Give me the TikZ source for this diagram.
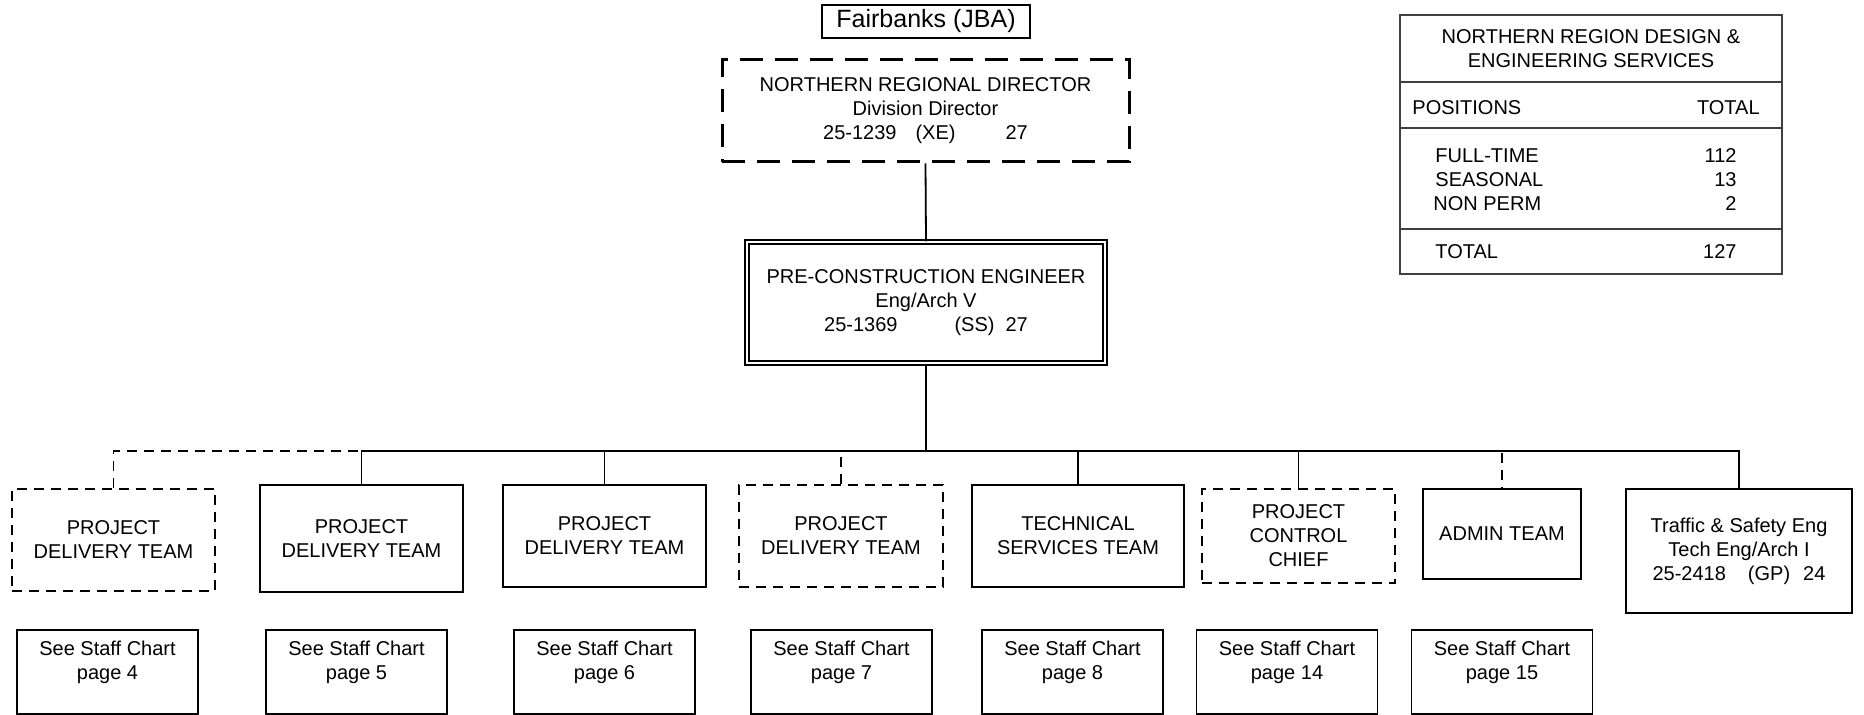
\documentclass[tikz,border=0pt]{standalone}
\usepackage{fontspec}
\setmainfont{Liberation Sans}
\definecolor{chartline}{HTML}{000000}
\definecolor{tableline}{HTML}{404040}

\begin{document}
\begin{tikzpicture}[x=0.5pt,y=-0.5pt,
        font=\fontsize{10}{12}\selectfont,
        box/.style={draw=chartline, line width=0.9pt, align=center, inner sep=0pt},
        dashbox/.style={box, dash pattern=on 5pt off 3.5pt},
        teambox/.style={box, minimum width=101.5pt, minimum height=51pt},
        staffbox/.style={box, minimum width=90.5pt, minimum height=42pt},
        link/.style={draw=chartline, line width=0.9pt},
        dashlink/.style={link, dash pattern=on 5pt off 3.5pt},
        cell/.style={inner sep=0pt}]
    \useasboundingbox (0,0) rectangle (1864,715);

    % Location
    \node[box, minimum width=104pt, minimum height=16.5pt,
          font=\fontsize{12.5}{14}\selectfont] (loc) at (926,21.5) {Fairbanks (JBA)};

    % Director and pre-construction engineer
    \node[box, line width=1.5pt, dash pattern=on 11.5pt off 6pt,
          minimum width=203.5pt, minimum height=51pt] (dir) at (925.5,111)
        {NORTHERN REGIONAL DIRECTOR\\Division Director\\25-1239\hspace{9.5pt}(XE)\hspace{25pt}27};
    \node[box, line width=0.6pt, double, double distance=1.4pt,
          minimum width=179pt, minimum height=60.5pt] (pce) at (926,302.5)
        {PRE-CONSTRUCTION ENGINEER\\Eng/Arch V\\25-1369\hspace{28.5pt}(SS)\hspace{5.5pt}27};

    % Teams
    \node[dashbox, minimum width=101.5pt, minimum height=51pt] (pdt1) at (113.5,540) {PROJECT\\DELIVERY TEAM};
    \node[teambox, minimum height=53.5pt] (pdt2) at (361.5,538.5) {PROJECT\\DELIVERY TEAM};
    \node[teambox] (pdt3) at (604.5,536) {PROJECT\\DELIVERY TEAM};
    \node[dashbox, minimum width=102pt, minimum height=51pt] (pdt4) at (841,536) {PROJECT\\DELIVERY TEAM};
    \node[teambox, minimum width=106pt] (tech) at (1078,536) {TECHNICAL\\SERVICES TEAM};
    \node[dashbox, minimum width=96.5pt, minimum height=47pt] (pcc) at (1298.5,536) {PROJECT\\CONTROL\\CHIEF};
    \node[box, minimum width=79pt, minimum height=45pt] (admin) at (1502,534) {ADMIN TEAM};
    \node[box, minimum width=113pt, minimum height=62pt] (tse) at (1739,551)
        {Traffic \& Safety Eng\\Tech Eng/Arch I\\25-2418\hspace{11pt}(GP)\hspace{6.5pt}24};

    % Staff chart references
    \foreach \i/\x/\p in {1/107.5/4, 2/356.5/5, 3/604.5/6, 4/841.5/7, 5/1072.5/8, 6/1287/14, 7/1502/15} {
        \node[staffbox] (staff\i) at (\x,672) {See Staff Chart\\page \p\\ \mbox{}};
    }

    % Connectors
    \coordinate (bus) at (926,451);
    \draw[link] (dir.south) -- (pce.north);
    \draw[link] (pce.south) -- (bus);
    \draw[dashlink] (pdt1.north) -- (pdt1.north |- bus) -- (admin.north |- bus) -- (admin.north);
    \draw[dashlink] (pdt4.north) -- (pdt4.north |- bus);
    \draw[link] (pdt2.north) -- (pdt2.north |- bus) -- (tse.north |- bus) -- (tse.north);
    \foreach \n in {pdt3,tech,pcc}
        \draw[link] (\n.north) -- (\n.north |- bus);

    % Position totals
    \node[draw=tableline, line width=0.6pt, minimum width=191pt, minimum height=129.5pt] (totals) at (1591,144.5) {};
    \draw[tableline, line width=0.6pt] (1400,82) -- (1782,82);
    \draw[tableline, line width=0.6pt] (1400,128) -- (1782,128);
    \draw[tableline, line width=0.6pt] (1400,229) -- (1782,229);
    \node[align=center] (ttl) at (1591,48.5) {NORTHERN REGION DESIGN \&\\ENGINEERING SERVICES};
    \node[cell, anchor=west] (poshead) at (1412,108) {POSITIONS};
    \node[cell, anchor=east] (tothead) at (1760,108) {TOTAL};
    \node[cell, anchor=west] (ft) at (1435,156) {FULL-TIME};
    \node[cell, anchor=west] (sea) at (1435,180) {SEASONAL};
    \node[cell, anchor=west] (np) at (1433,204) {NON PERM};
    \node[cell, anchor=west] (tot) at (1435,252) {TOTAL};
    \node[cell, anchor=east] (ftn) at (1737,156) {112};
    \node[cell, anchor=east] (sean) at (1737,180) {13};
    \node[cell, anchor=east] (npn) at (1737,204) {2};
    \node[cell, anchor=east] (totn) at (1737,252) {127};
\end{tikzpicture}
\end{document}
